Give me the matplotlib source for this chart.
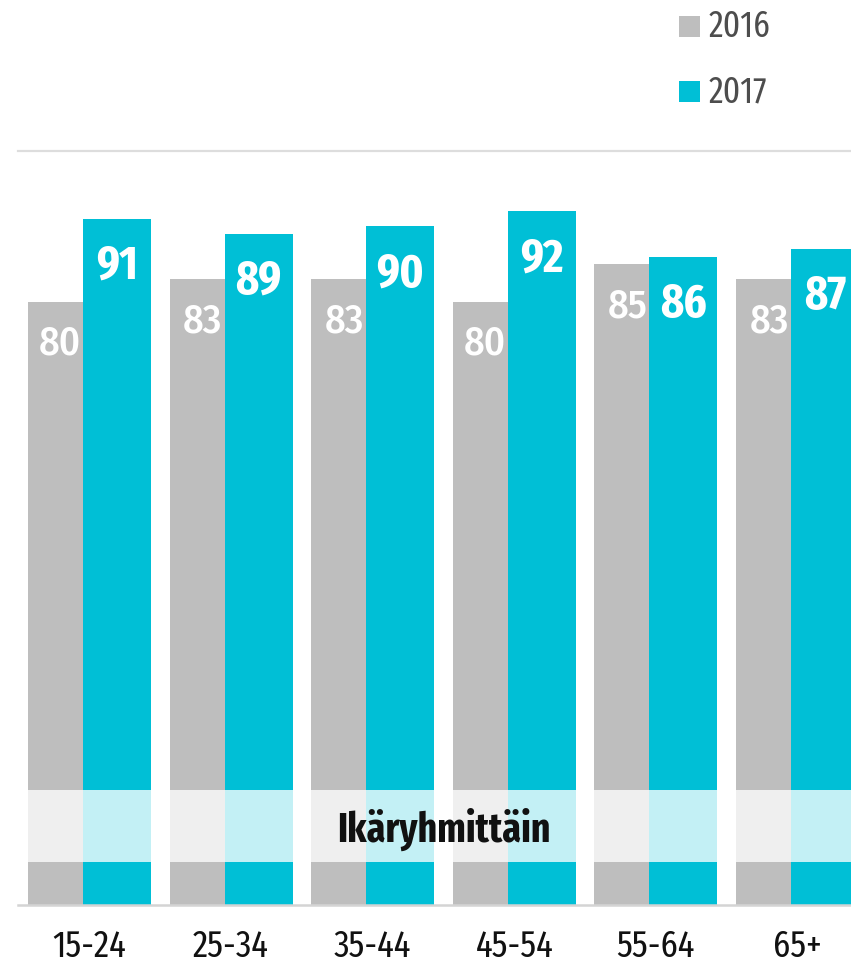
import matplotlib
matplotlib.use("Agg")
import matplotlib.pyplot as plt
from matplotlib import font_manager as fm
from matplotlib.patches import Rectangle

# ---- data ----
categories = ["15-24", "25-34", "35-44", "45-54", "55-64", "65+"]
series_names = ["2016", "2017"]
values_2016 = [80, 83, 83, 80, 85, 83]
values_2017 = [91, 89, 90, 92, 86, 87]
band_label = "Ikäryhmittäin"

# ---- styles ----
GRAY = "#BEBEBE"
CYAN = "#00BFD6"
COND = ["Fira Sans Condensed", "DejaVu Sans"]
XCOND = ["Fira Sans Extra Condensed", "DejaVu Sans"]


def fp(fam, size, weight="normal"):
    return fm.FontProperties(family=fam, size=size, weight=weight)


W, H = 851, 967
fig = plt.figure(figsize=(W / 100, H / 100), dpi=100)

P = 141.6            # group pitch in px
off = 55 / P         # cyan offset
bw = 68 / P          # bar width
ax_left_px, ax_right_px = 18, 862
ax_top_px, ax_bot_px = 151, 905
ax = fig.add_axes([ax_left_px / W, (H - ax_bot_px) / H,
                   (ax_right_px - ax_left_px) / W, (ax_bot_px - ax_top_px) / H])
ax.set_xlim(-10 / P, (ax_right_px - 28) / P)
ax.set_ylim(0, 100)
ax.axis("off")

ppu = (ax_bot_px - ax_top_px) / 100.0  # px per unit

x = list(range(len(categories)))
ax.bar([i for i in x], values_2016, width=bw, align="edge", color=GRAY, zorder=2)
ax.bar([i + off for i in x], values_2017, width=bw, align="edge", color=CYAN, zorder=3)

ax.axhline(100, color="#DDDDDD", lw=1.6, zorder=1, clip_on=False)
ax.axhline(0, color="#D4D4D4", lw=1.8, zorder=4, clip_on=False)

# translucent band
ax.axhspan((ax_bot_px - 862) / ppu, (ax_bot_px - 790) / ppu, color="white", alpha=0.77,
           lw=0, zorder=5)
xmax = len(categories) - 1 + off + bw
ax.text(xmax / 2, (ax_bot_px - 842) / ppu, band_label, ha="center", va="baseline",
        fontproperties=fp(XCOND, 29.5, "bold"), color="#111111", zorder=6)

for i, (a, b) in enumerate(zip(values_2016, values_2017)):
    ax.text(i + off - 2 / P, a - 53 / ppu, f"{a}", ha="right", va="baseline",
            fontproperties=fp(COND, 29, "medium"), color="white", zorder=4)
    ax.text(i + off + bw / 2, b - 60 / ppu, f"{b}", ha="center", va="baseline",
            fontproperties=fp(XCOND, 34.5, "bold"), color="white", zorder=4)
    ax.text(i + 61.5 / P, -52 / ppu, categories[i], ha="center", va="baseline",
            fontproperties=fp(XCOND, 27), color="#111111", clip_on=False)

# legend
for k, (name, col, base) in enumerate(zip(series_names, [GRAY, CYAN], [37, 102])):
    fig.patches.append(Rectangle((679 / W, (H - base) / H), 21 / W, 21 / H,
                                 transform=fig.transFigure, color=col, lw=0))
    fig.text(709 / W, (H - base) / H, name, ha="left", va="baseline",
             fontproperties=fp(XCOND, 26), color="#4D4D4D")

fig.savefig("out.png", dpi=100)
